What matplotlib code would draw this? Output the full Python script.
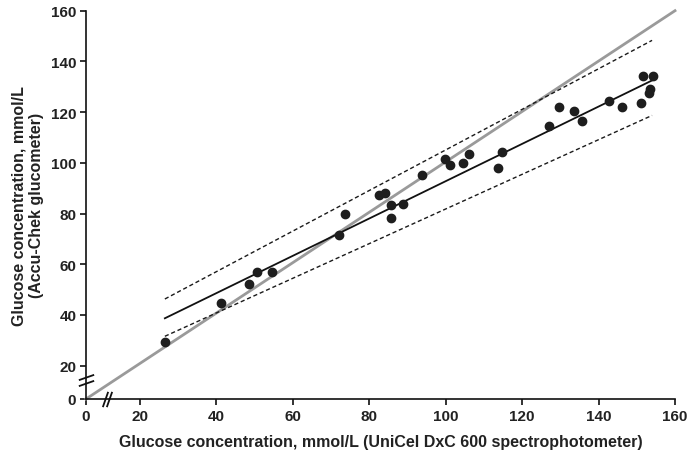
import numpy as np
import matplotlib
matplotlib.use("Agg")
import matplotlib.pyplot as plt
from matplotlib.path import Path

# ---- data ----
x_vals = [26.5, 41.1, 48.6, 50.7, 54.6, 72.2, 73.7, 82.6, 84.1, 85.6, 85.6, 88.7,
          93.7, 99.7, 101.2, 104.6, 106.2, 113.7, 114.7, 127.1, 129.7, 133.7,
          135.6, 142.6, 146.2, 151.2, 151.6, 154.2, 153.5, 153.1]
y_vals = [29.3, 44.7, 52.2, 56.8, 56.8, 71.5, 79.7, 87.2, 88.0, 83.3, 78.4, 83.9,
          95.2, 101.4, 99.1, 99.9, 103.3, 98.0, 104.3, 114.4, 122.0, 120.6,
          116.6, 124.2, 122.2, 123.7, 134.4, 134.1, 129.3, 127.6]

fit_x = [26.5, 154.0]
fit_y = [38.7, 132.5]
upper_y = [46.3, 148.3]
lower_y = [31.6, 118.7]
identity = [0, 160]

ticks = [0, 20, 40, 60, 80, 100, 120, 140, 160]
xlabel = "Glucose concentration, mmol/L (UniCel DxC 600 spectrophotometer)"
ylabel = "Glucose concentration, mmol/L\n(Accu-Chek glucometer)"

# ---- broken-axis style scale (0-20 compressed) ----
def make_scale(a, b, brk=20.0):
    def fwd(v):
        v = np.asarray(v, float)
        return np.where(v < brk, v * a, brk * a + (v - brk) * b)
    def inv(u):
        u = np.asarray(u, float)
        return np.where(u < brk * a, u / a, brk + (u - brk * a) / b)
    return fwd, inv

plt.rcParams['font.family'] = ['Liberation Sans', 'DejaVu Sans']

fig = plt.figure(figsize=(6.9, 4.6), dpi=100)
ax = fig.add_axes([86 / 690, 1 - 400 / 460, (675 - 86) / 690, (400 - 11.7) / 460])

ax.set_xscale('function', functions=make_scale(2.7, 3.82))
ax.set_yscale('function', functions=make_scale(1.665, 2.536))
ax.set_xlim(0, 160)
ax.set_ylim(0, 160)

ax.plot(identity, identity, color='#9a9a9a', lw=2.0, zorder=2, clip_on=False)
ax.plot(fit_x, upper_y, color='#1a1a1a', lw=1.0, ls=(0, (3, 2)), zorder=3)
ax.plot(fit_x, lower_y, color='#1a1a1a', lw=1.0, ls=(0, (3, 2)), zorder=3)
ax.plot(fit_x, fit_y, color='#111111', lw=1.3, zorder=3)
ax.plot(x_vals, y_vals, 'o', color='#1e1e1e', ms=6, zorder=4)

for s in ['top', 'right']:
    ax.spines[s].set_visible(False)
for s in ['left', 'bottom']:
    ax.spines[s].set_linewidth(1.2)
    ax.spines[s].set_color('#111111')

ax.set_xticks(ticks)
ax.set_yticks(ticks)
ax.set_xticklabels([str(t) for t in ticks])
ax.set_yticklabels([str(t) for t in ticks])
ax.tick_params(direction='out', length=4, width=1.2, labelsize=11, pad=3, colors='#111111')
for lab in ax.get_xticklabels() + ax.get_yticklabels():
    lab.set_fontweight('bold')
    lab.set_color('#222222')

ax.set_xlabel(xlabel, fontsize=11.5, fontweight='bold', color='#222222', labelpad=8)
ax.set_ylabel(ylabel, fontsize=11.5, fontweight='bold', color='#222222', labelpad=5)

# axis break marks
slash_x = Path([(-0.35, -1), (0.35, 1)], [Path.MOVETO, Path.LINETO])
slash_y = Path([(-1, -0.35), (1, 0.35)], [Path.MOVETO, Path.LINETO])
ax.plot([7.0, 8.7], [0, 0], ls='none', marker=slash_x, ms=11, mew=1.3,
        color='#111111', clip_on=False, zorder=5)
ax.plot([0, 0], [9.5, 13.0], ls='none', marker=slash_y, ms=11, mew=1.3,
        color='#111111', clip_on=False, zorder=5)

fig.savefig('out.png', dpi=100)
